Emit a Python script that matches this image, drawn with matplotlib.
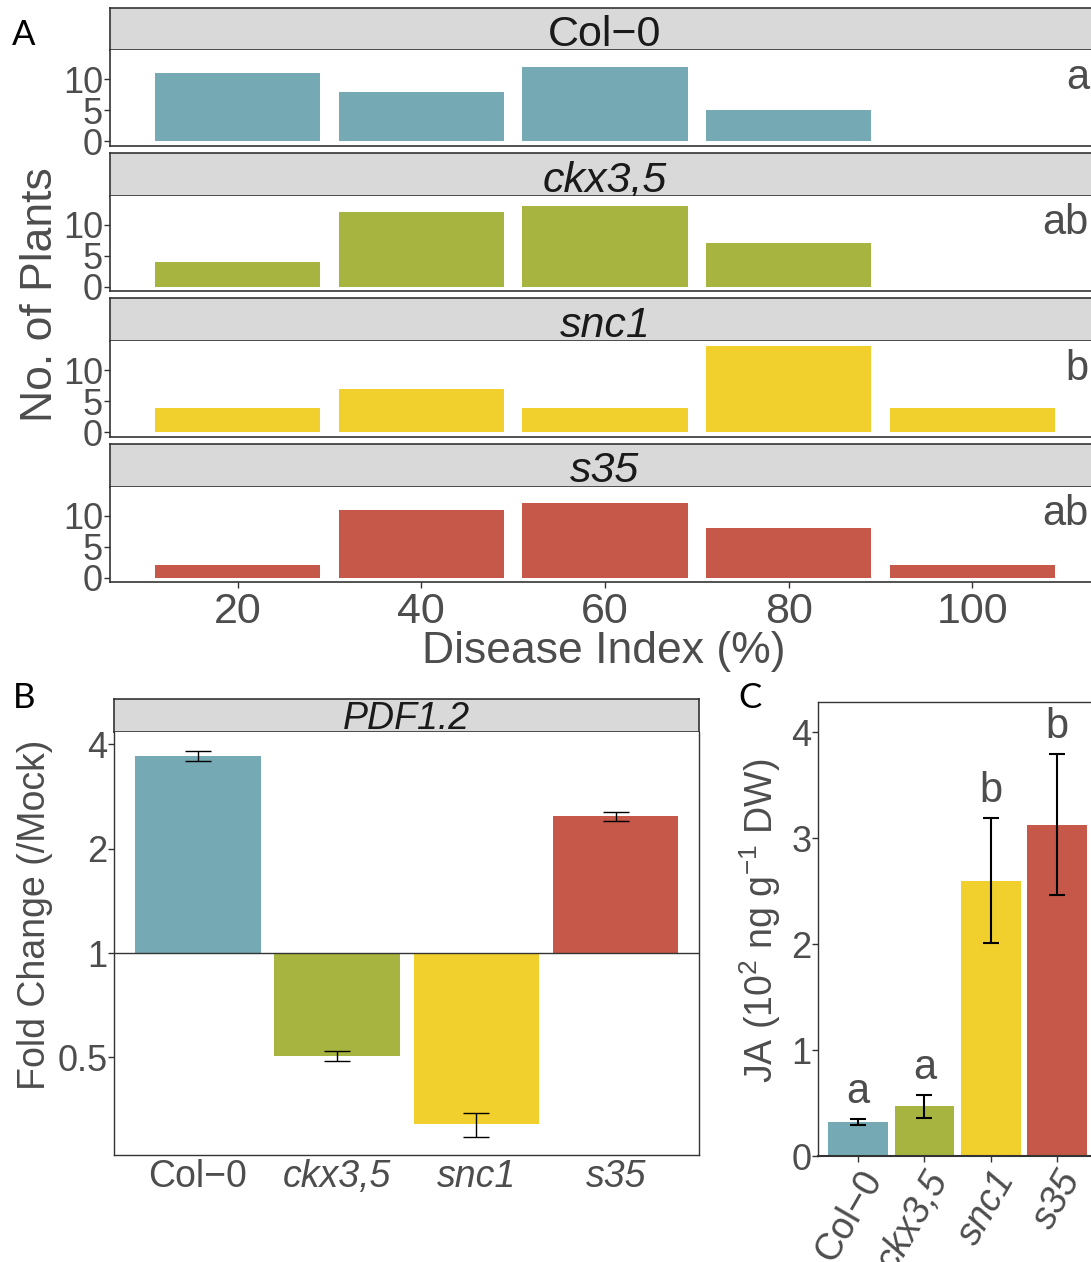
import matplotlib.pyplot as plt
import numpy as np

plt.rcParams['font.family'] = ['Liberation Sans', 'DejaVu Sans']
plt.rcParams['mathtext.fontset'] = 'custom'
plt.rcParams['mathtext.rm'] = 'Liberation Sans'
plt.rcParams['mathtext.it'] = 'Liberation Sans:italic'

genotypes = ['Col\u22120', 'ckx3,5', 'snc1', 's35']
italic = [False, True, True, True]
colors = ['#75A9B4', '#A8B440', '#F1D02D', '#C55849']

# A: plants per disease index class
disease_index = [20, 40, 60, 80, 100]
plants_col0 = [11, 8, 12, 5, 0]
plants_ckx = [4, 12, 13, 7, 0]
plants_snc1 = [4, 7, 4, 14, 4]
plants_s35 = [2, 11, 12, 8, 2]
groups_a = ['a', 'ab', 'b', 'ab']

# B: PDF1.2 expression (fold change vs mock)
pdf12_fold = [3.70, 0.504, 0.321, 2.48]
pdf12_se = [0.125, 0.017, 0.026, 0.08]

# C: JA content
ja_level = [0.32, 0.47, 2.60, 3.13]
ja_se = [0.027, 0.11, 0.59, 0.665]
groups_c = ['a', 'a', 'b', 'b']

W, H = 1091, 1262
GREY = '#4D4D4D'
LINE = '#333333'


def box(x0, y0, x1, y1):
    # pixel rectangle (from top-left) -> figure fraction
    return [x0 / W, 1 - y1 / H, (x1 - x0) / W, (y1 - y0) / H]


def strip(fig, rect, label, ital, size, base):
    s = fig.add_axes(rect)
    s.set_facecolor('#D9D9D9')
    s.set_xticks([])
    s.set_yticks([])
    for sp in s.spines.values():
        sp.set_color(LINE)
        sp.set_linewidth(1.2)
    s.text(0.5, base, label, transform=s.transAxes, ha='center', va='baseline',
           fontsize=size, color='#1A1A1A', style='italic' if ital else 'normal')
    return s


fig = plt.figure(figsize=(W / 100, H / 100), dpi=100)

# ---- A ----
counts = [plants_col0, plants_ckx, plants_snc1, plants_s35]
for i in range(4):
    top = 7.5 + 145.5 * i
    strip(fig, box(110, top, 1100, top + 42.7), genotypes[i], italic[i], 31, 0.1)
    ax = fig.add_axes(box(110, top + 42.7, 1100, top + 42.7 + 95.5))
    ax.bar(disease_index, counts[i], width=18, color=colors[i], linewidth=0)
    ax.set_xlim(6.1, 113.9)
    ax.set_ylim(-0.7, 14.7)
    ax.set_yticks([0, 5, 10])
    ax.set_xticks(disease_index)
    ax.spines['top'].set_visible(False)
    ax.spines['right'].set_visible(False)
    for sp in ['left', 'bottom']:
        ax.spines[sp].set_color(LINE)
        ax.spines[sp].set_linewidth(1.2)
    ax.tick_params(axis='y', labelsize=26, colors=LINE, labelcolor=GREY, length=4, width=1, pad=1)
    if i < 3:
        ax.tick_params(axis='x', length=0, labelbottom=False)
    else:
        ax.tick_params(axis='x', labelsize=31, colors=LINE, labelcolor=GREY, length=4, width=1, pad=3)
    ax.text(112.7, 8.5, groups_a[i], ha='right', va='baseline', fontsize=30, color=GREY)

fig.text(41 / W, 1 - 295 / H, 'No. of Plants', rotation=90, ha='center', va='center',
         fontsize=32, color=GREY)
fig.text(604 / W, 1 - 663 / H, 'Disease Index (%)', ha='center', va='baseline',
         fontsize=32, color=GREY)

# ---- B ----
strip(fig, box(114.3, 699, 699.3, 732), 'PDF1.2', True, 27, 0.1)
bx = fig.add_axes(box(114.3, 732, 699.3, 1155))
xpos = np.arange(1, 5)
bx.set_yscale('log', base=2)
bx.bar(xpos, np.array(pdf12_fold) - 1, bottom=1, width=0.9, color=colors, linewidth=0)
bx.errorbar(xpos, pdf12_fold, yerr=pdf12_se, fmt='none', ecolor='black', elinewidth=1,
            capsize=9.7, capthick=1)
bx.axhline(1, color=LINE, linewidth=1)
bx.set_xlim(0.4, 4.6)
bx.set_ylim(0.2617, 4.341)
bx.set_yticks([0.5, 1, 2, 4])
bx.set_yticklabels(['0.5', '1', '2', '4'])
bx.yaxis.set_minor_locator(plt.NullLocator())
bx.set_xticks(xpos)
bx.set_xticklabels(genotypes)
for lab, it in zip(bx.get_xticklabels(), italic):
    lab.set_style('italic' if it else 'normal')
bx.spines['top'].set_visible(False)
for sp in ['left', 'bottom', 'right']:
    bx.spines[sp].set_color(LINE)
    bx.spines[sp].set_linewidth(1)
bx.tick_params(axis='y', labelsize=26, colors=LINE, labelcolor=GREY, length=4, width=1, pad=1)
bx.tick_params(axis='x', labelsize=27, labelcolor=GREY, length=0, pad=3)
fig.text(35 / W, 1 - 915 / H, 'Fold Change (/Mock)', rotation=90, ha='center', va='center',
         fontsize=27, color=GREY)

# ---- C ----
cx = fig.add_axes(box(818.3, 701.7, 1097, 1156))
cx.bar(xpos, ja_level, width=0.9, color=colors, linewidth=0)
cx.errorbar(xpos, ja_level, yerr=ja_se, fmt='none', ecolor='black', elinewidth=1.5,
            capsize=6.1, capthick=1.5)
for x, v, e, g in zip(xpos, ja_level, ja_se, groups_c):
    cx.text(x, v + e + 0.15, g, ha='center', va='baseline', fontsize=30, color=GREY)
cx.set_xlim(0.4, 4.6)
cx.set_ylim(0, 4.29)
cx.set_yticks([0, 1, 2, 3, 4])
cx.set_xticks(xpos)
cx.set_xticklabels(genotypes, rotation=60, ha='right', va='top', rotation_mode='anchor')
for lab, it in zip(cx.get_xticklabels(), italic):
    lab.set_style('italic' if it else 'normal')
for sp in cx.spines.values():
    sp.set_color(LINE)
    sp.set_linewidth(1)
cx.spines['bottom'].set_linewidth(1.5)
cx.tick_params(axis='y', labelsize=26, colors=LINE, labelcolor=GREY, length=4, width=1, pad=1)
cx.tick_params(axis='x', labelsize=27, colors=LINE, labelcolor=GREY, length=4, width=1, pad=2)
fig.text(760 / W, 1 - 921 / H, r'JA (10$^{\mathregular{2}}$ ng g$^{\mathregular{-1}}$ DW)',
         rotation=90, ha='center', va='center', fontsize=27, color=GREY)

# panel letters
for lx, ly, letter in [(12, 45, 'A'), (13, 708, 'B'), (738, 708, 'C')]:
    fig.text(lx / W, 1 - ly / H, letter, ha='left', va='baseline', fontsize=25,
             family='Lato', color='black')

fig.savefig('out.png', dpi=100)
